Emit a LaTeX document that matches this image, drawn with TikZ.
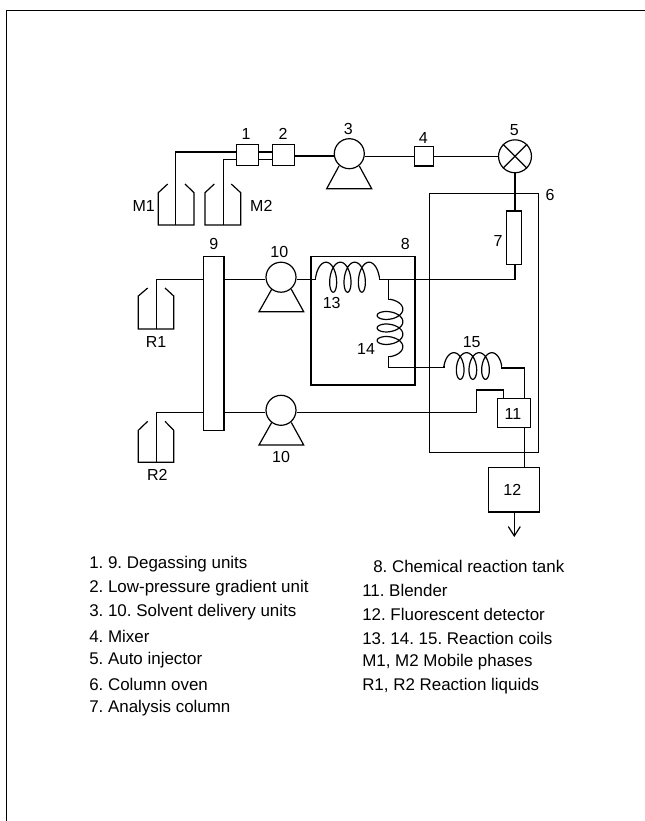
\documentclass[tikz,border=0pt]{standalone}
\usepackage{fontspec}
\setmainfont{Liberation Sans}
\usetikzlibrary{arrows.meta}

\begin{document}
\frenchspacing
\begin{tikzpicture}[
  x=0.75pt, y=-0.75pt,
  every node/.style={font=\fontsize{12}{14}\selectfont, inner sep=0pt},
  unit/.style={draw, line width=0.9pt},
  pipe/.style={line width=0.9pt},
  legend/.style={anchor=west, font=\fontsize{12.7}{15}\selectfont},
  pics/coilh/.style n args={3}{code={
    \draw[pipe] plot[samples=150, smooth, domain=-90:1170, variable=\t]
      ({#1*((\t+90)/360)+#2*sin(\t)+#2},{-#3*cos(\t)});
  }}
]
  \useasboundingbox (0,0) rectangle (645,821);
  \draw[line width=0.7pt] (6.5,821) -- (6.5,10) -- (645,10);

  % boxes
  \node[unit, minimum width=16pt, minimum height=16pt] (u1) at (247.5,155) {};
  \node[unit, minimum width=16pt, minimum height=16pt] (u2) at (283.5,155) {};
  \node[unit, minimum width=14.5pt, minimum height=14.5pt] (u4) at (424,156.3) {};
  \node[unit, minimum width=11pt, minimum height=40pt] (u7) at (513.8,237.6) {};
  \node[unit, minimum width=81.7pt, minimum height=194.5pt] (u6) at (483.8,323.2) {};
  \node[unit, minimum width=78pt, minimum height=96.5pt] (u8) at (363,320.6) {};
  \node[unit, minimum width=15.2pt, minimum height=130.8pt] (u9) at (213.8,343.5) {};
  \node[unit, minimum width=25pt, minimum height=21.7pt] (u11) at (514,412.8) {};
  \node[unit, minimum width=38.2pt, minimum height=33.2pt] (u12) at (513.8,489.8) {};

  % pumps
  \node[unit, circle, minimum size=22.5pt] (p3) at (349.3,153.7) {};
  \node[unit, circle, minimum size=22.5pt] (p10a) at (281,277.2) {};
  \node[unit, circle, minimum size=22.5pt] (p10b) at (281,410.3) {};
  \draw[pipe] (339,166) -- (326.7,188.7) -- (371.7,188.7) -- (359.3,166);
  \draw[pipe] (271.7,289.3) -- (259,311.7) -- (303.7,311.7) -- (291.3,289.3);
  \draw[pipe] (271.7,422.5) -- (259,445) -- (303.7,445) -- (291.3,422.5);

  % injector
  \node[unit, circle, minimum size=24.7pt] (v5) at (515,156.3) {};
  \draw[pipe] (v5.north west) -- (v5.south east);
  \draw[pipe] (v5.north east) -- (v5.south west);

  % bottles
  \draw[pipe] (167.7,184) -- (158.3,192.7) -- (158.3,225) -- (194,225) -- (194,192.7) -- (185,184);
  \draw[pipe] (214.3,184) -- (205,192.7) -- (205,225) -- (240.7,225) -- (240.7,192.7) -- (231.3,184);
  \draw[pipe] (147.7,288) -- (138.3,296) -- (138.3,329) -- (173.7,329) -- (173.7,296) -- (165,288);
  \draw[pipe] (147.7,421.3) -- (138.3,430.3) -- (138.3,462.3) -- (173.7,462.3) -- (173.7,430.3) -- (165,421.3);

  % coils
  \coordinate (c13a) at (315.7,277.2);
  \coordinate (c13b) at (379.3,277.2);
  \coordinate (c14a) at (390,299.3);
  \coordinate (c14b) at (390,356.7);
  \coordinate (c15a) at (444,366);
  \coordinate (c15b) at (501.7,366);
  \pic at (c13a) {coilh={14.35}{6.7}{15}};
  \pic[rotate=-90] at (c14a) {coilh={12.5}{6.8}{12.85}};
  \pic at (c15a) {coilh={12.65}{6.7}{13.3}};

  % tubing
  \draw[pipe] (u1.west |- 0,152) -| (175.3,225);
  \draw[pipe] (u1.west |- 0,159.3) -| (223.7,225);
  \draw[pipe] (u1.east |- 0,152) -- (u2.west |- 0,152);
  \draw[pipe] (u1.east |- 0,159.3) -- (u2.west |- 0,159.3);
  \draw[pipe] (u2.east |- 0,156) -- (p3.west |- 0,156);
  \draw[pipe] (p3.east |- 0,156.3) -- (u4);
  \draw[pipe] (u4) -- (v5);
  \draw[pipe] (v5.south) -- (v5.south |- u7.north);
  \draw[pipe] (v5.south |- u7.south) |- (379.3,279.3) -- (c13b);
  \draw[pipe] (156.7,329) |- (u9.west |- 0,279.3);
  \draw[pipe] (156.7,462.3) |- (u9.west |- 0,412.7);
  \draw[pipe] (u9.east |- 0,279.3) -- (p10a.west |- 0,279.3);
  \draw[pipe] (u9.east |- 0,412.7) -- (p10b.west |- 0,412.7);
  \draw[pipe] (p10a.east |- 0,279.3) -| (c13a);
  \draw[pipe] (388.3,279.3) |- (c14a);
  \draw[pipe] (c14b) -| (388.3,367.5) -| (c15a);
  \draw[pipe] (c15b) |- (524.7,368) -- (524.7,398.3);
  \draw[pipe] (p10b.east |- 0,412.7) -- (476.7,412.7) |- (503.3,390) -- (503.3,398.3);
  \draw[pipe] (524.7,427.3) -- (524.7,467.7);
  \coordinate (outlet) at (514.3,537);
  \draw[pipe, -{Straight Barb[length=7pt,width=9pt]}] (u12.south -| outlet) -- (outlet);

  % labels
  \node (l1) at (246,134.3) {1};
  \node (l2) at (283,134.3) {2};
  \node (l3) at (348.3,129) {3};
  \node (l4) at (423.3,137.7) {4};
  \node (l5) at (514.3,130.3) {5};
  \node (l6) at (550,195.3) {6};
  \node (l7) at (498,241) {7};
  \node (l8) at (405.3,244) {8};
  \node (l9) at (213.7,244) {9};
  \node (l10a) at (279.3,251.7) {10};
  \node (l10b) at (281,457.3) {10};
  \node (l11) at (513,414.3) {11};
  \node (l12) at (512.3,490) {12};
  \node (l13) at (331.7,302.7) {13};
  \node (l14) at (366,348.7) {14};
  \node (l15) at (471.7,342.3) {15};
  \node (lm1) at (143.7,206) {M1};
  \node (lm2) at (261.3,206) {M2};
  \node (lr1) at (156,342.3) {R1};
  \node (lr2) at (157.3,475) {R2};

  % key
  \node[legend] (k1) at (89,564) {1. 9. Degassing units};
  \node[legend] (k2) at (89,588) {2. Low-pressure gradient unit};
  \node[legend] (k3) at (89,612) {3. 10. Solvent delivery units};
  \node[legend] (k4) at (89,636) {4. Mixer};
  \node[legend] (k5) at (89,660) {5. Auto injector};
  \node[legend] (k6) at (89,684) {6. Column oven};
  \node[legend] (k7) at (89,708) {7. Analysis column};
  \node[legend] (k8) at (373,566) {8. Chemical reaction tank};
  \node[legend] (k11) at (362,590) {11. Blender};
  \node[legend] (k12) at (362,614) {12. Fluorescent detector};
  \node[legend] (k13) at (362,638) {13. 14. 15. Reaction coils};
  \node[legend] (km) at (362,662) {M1, M2 Mobile phases};
  \node[legend] (kr) at (362,686) {R1, R2 Reaction liquids};
\end{tikzpicture}
\end{document}
